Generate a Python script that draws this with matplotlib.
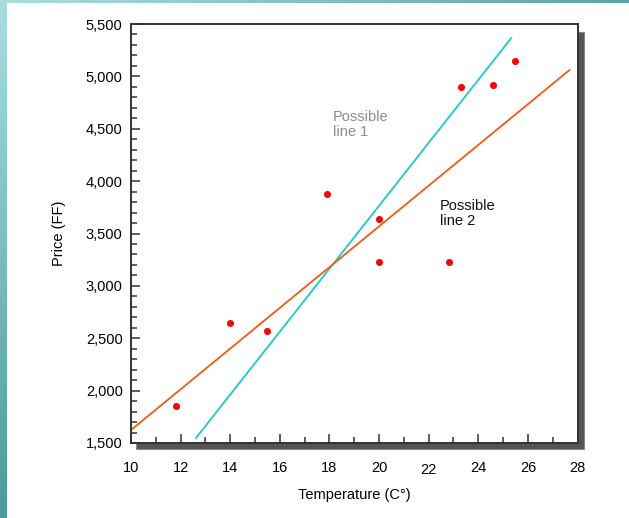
import numpy as np
import matplotlib
matplotlib.use("Agg")
import matplotlib.pyplot as plt
from matplotlib.patches import Rectangle
from matplotlib.ticker import MultipleLocator, FuncFormatter
from matplotlib.transforms import ScaledTranslation

# ---- data ----
temperature = [11.8, 14.0, 15.5, 17.9, 20.0, 20.0, 22.8, 23.3, 24.6, 25.5]
price = [1850, 2650, 2570, 3880, 3640, 3230, 3230, 4900, 4920, 5150]

line1_x = [12.62, 25.33]
line1_y = [1548, 5366]
line2_x = [10.0, 27.68]
line2_y = [1624, 5061]

x_ticks = [10, 12, 14, 16, 18, 20, 22, 24, 26, 28]
y_ticks = [1500, 2000, 2500, 3000, 3500, 4000, 4500, 5000, 5500]

W, H = 629, 518
plt.rcParams['font.family'] = ['Liberation Sans', 'DejaVu Sans']
fig = plt.figure(figsize=(W / 100, H / 100), dpi=100)

# slide background decoration (teal gradient strips)
bg = fig.add_axes([0, 0, 1, 1], zorder=-10)
bg.set_axis_off()
grad_v = np.linspace(0, 1, 256).reshape(-1, 1)
cmap_v = matplotlib.colors.LinearSegmentedColormap.from_list("t", ["#a9dede", "#4b9a9c"])
bg.imshow(grad_v, extent=[0, 7, H, 0], cmap=cmap_v, aspect='auto')
grad_h = np.linspace(0, 1, 256).reshape(1, -1)
cmap_h = matplotlib.colors.LinearSegmentedColormap.from_list("h", ["#a9dede", "#5aa6a6"])
bg.imshow(grad_h, extent=[0, W, 3, 0], cmap=cmap_h, aspect='auto')
bg.set_xlim(0, W)
bg.set_ylim(H, 0)

# axes
left, right, top, bottom = 131, 577.5, 24, 443
ax = fig.add_axes([left / W, 1 - bottom / H, (right - left) / W, (bottom - top) / H])

# drop shadow
shadow = Rectangle(((left + 5) / W, 1 - (bottom + 6) / H), (right - left + 1) / W, (bottom - top - 2) / H,
                   transform=fig.transFigure, facecolor="#555555", edgecolor="#888888", lw=0.8, zorder=-5)
fig.patches.append(shadow)

ax.set_xlim(10, 28)
ax.set_ylim(1500, 5500)

ax.plot(line1_x, line1_y, color="#1fc8c8", lw=1.3, zorder=2)
ax.plot(line2_x, line2_y, color="#f05a14", lw=1.3, zorder=2)
ax.scatter(temperature, price, s=26, color="#ee0a0a", zorder=3, linewidths=0)

ax.text(18.15, 4400, "Possible\nline 1", color="#8c8c8c", fontsize=10.5, linespacing=1.1, va='bottom')
ax.text(22.45, 3550, "Possible\nline 2", color="#111111", fontsize=10.5, linespacing=1.1, va='bottom')

for s in ax.spines.values():
    s.set_color("#333333")
    s.set_linewidth(1.4)

ax.set_xticks(x_ticks)
ax.set_yticks(y_ticks)
ax.xaxis.set_minor_locator(MultipleLocator(1))
ax.yaxis.set_minor_locator(MultipleLocator(100))
ax.yaxis.set_major_formatter(FuncFormatter(lambda v, p: f"{int(v):,}"))
ax.tick_params(axis='both', which='major', direction='in', length=6.5, width=1.1, color="#333333",
               labelsize=10.5, top=False, right=False)
ax.tick_params(axis='both', which='minor', direction='in', length=4, width=1.1, color="#333333",
               top=False, right=False)
ax.tick_params(axis='x', which='major', pad=13)
ax.tick_params(axis='y', which='major', pad=6)

# the "22" label sits slightly lower in the original
for lab in ax.get_xticklabels():
    if lab.get_text() == "22":
        lab.set_transform(lab.get_transform() + ScaledTranslation(0, -2 / 100, fig.dpi_scale_trans))

ax.set_xlabel("Temperature (C°)", fontsize=10.5, labelpad=8)
ax.set_ylabel("Price (FF)", fontsize=10.5, labelpad=14)

fig.savefig("out.png", dpi=100)
